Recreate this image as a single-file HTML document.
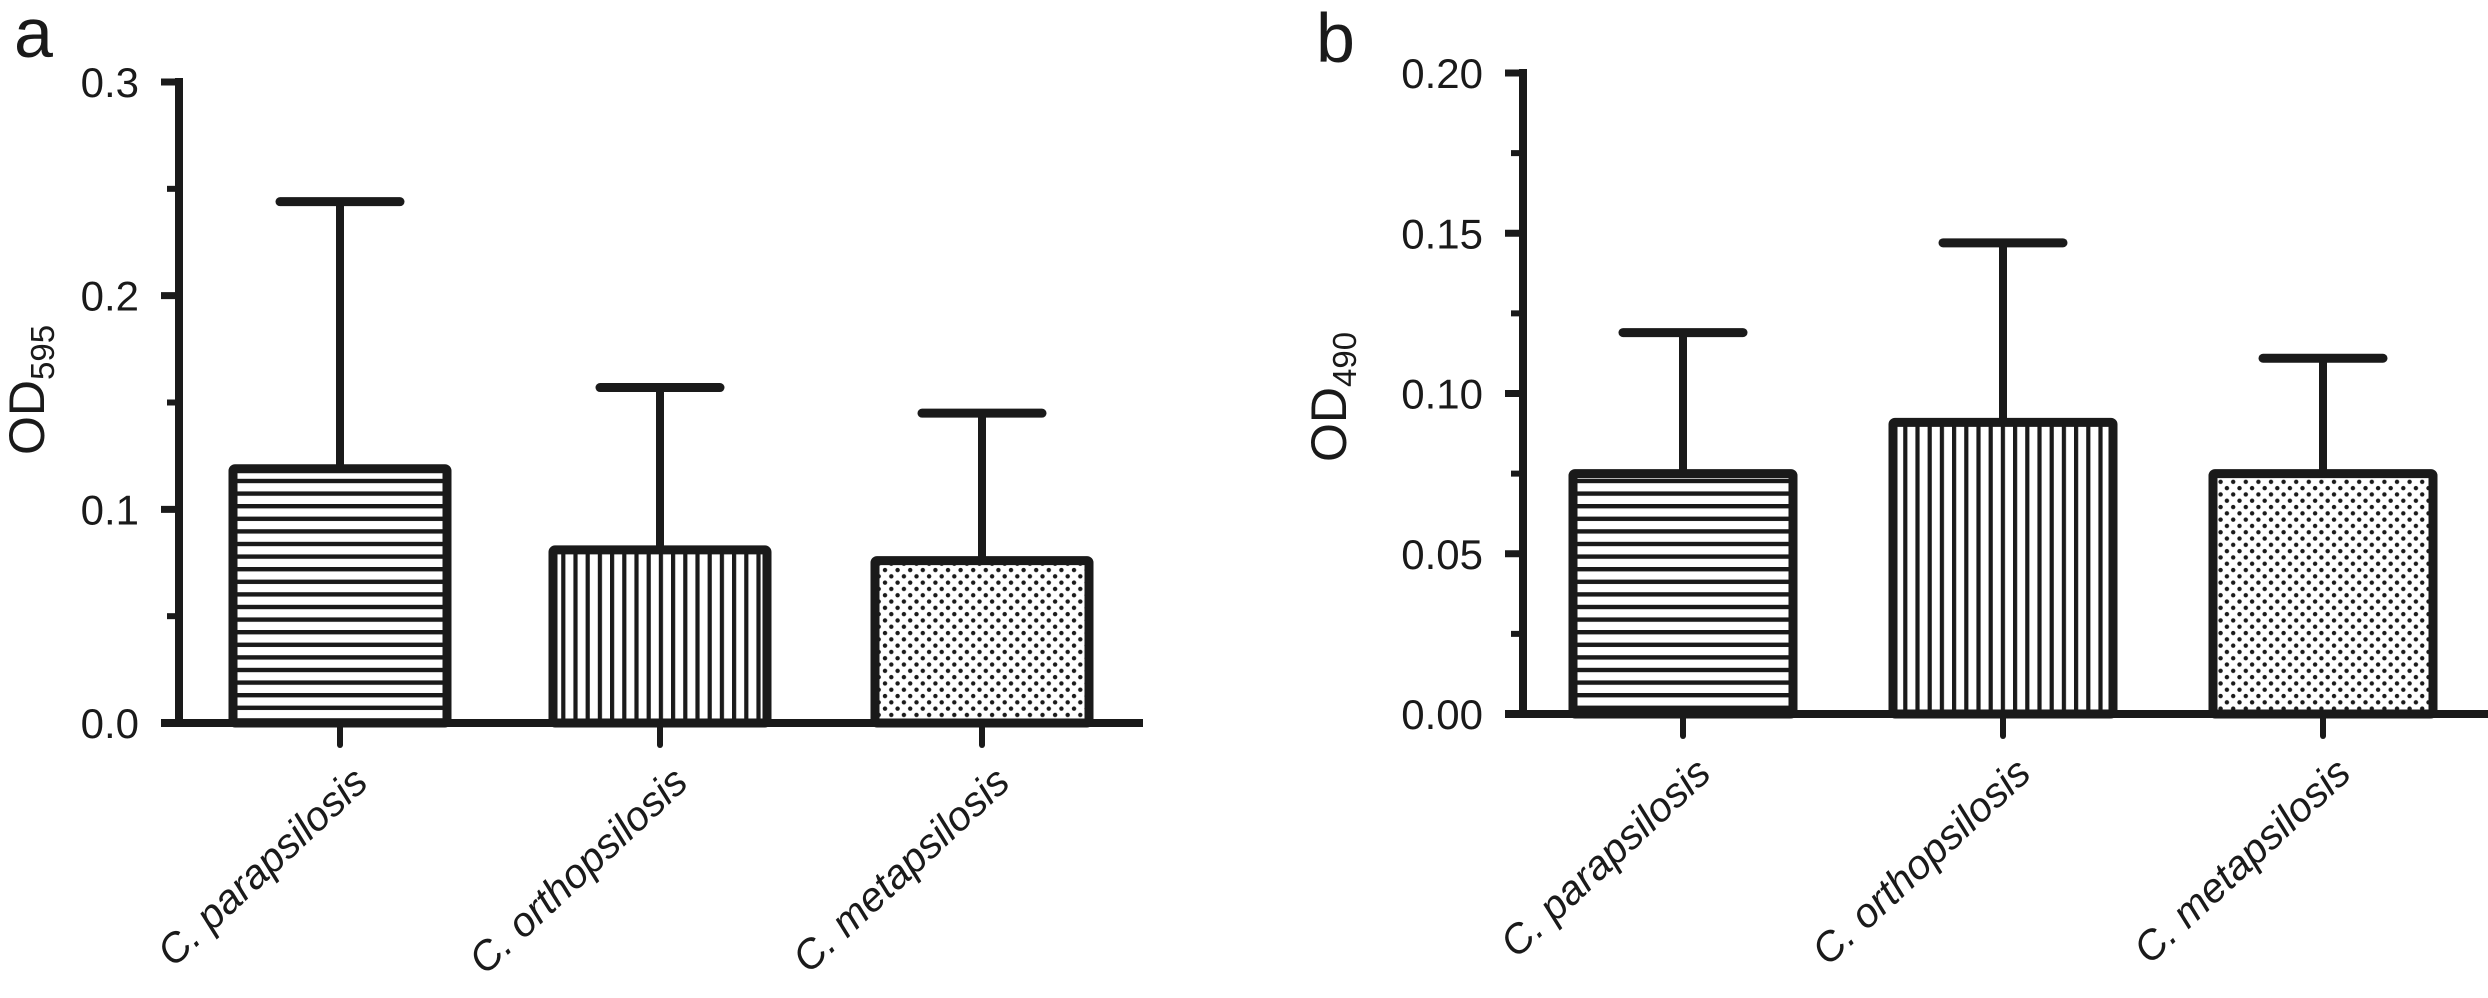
<!DOCTYPE html>
<html><head><meta charset="utf-8"><style>
html,body{margin:0;padding:0;background:#fff;}
svg{display:block;font-family:"Liberation Sans",sans-serif;}
</style></head><body>
<svg id="chart" width="2488" height="998" viewBox="0 0 2488 998" xmlns="http://www.w3.org/2000/svg">
<defs>
<pattern id="hstripe" patternUnits="userSpaceOnUse" width="12.6" height="12.6"><rect x="0" y="0" width="12.6" height="4.4" fill="#1a1a1a"/></pattern>
<pattern id="vstripe" patternUnits="userSpaceOnUse" width="12.2" height="12.2"><rect x="0" y="0" width="4.2" height="12.2" fill="#1a1a1a"/></pattern>
<pattern id="dots" patternUnits="userSpaceOnUse" width="12.6" height="12.6"><circle cx="3" cy="3" r="2.2" fill="#1a1a1a"/><circle cx="9.3" cy="9.3" r="2.2" fill="#1a1a1a"/></pattern>
</defs>
<text x="14" y="57" font-size="70" fill="#1a1a1a">a</text>
<text x="1316" y="62" font-size="70" fill="#1a1a1a">b</text>
<text transform="translate(44,455) rotate(-90)" font-size="50" fill="#1a1a1a">OD<tspan font-size="33" dy="10">595</tspan></text>
<text transform="translate(1346,462) rotate(-90)" font-size="50" fill="#1a1a1a">OD<tspan font-size="33" dy="10">490</tspan></text>
<g id="pa"></g>
<g id="pb"></g>
</svg>
<script>
const categories = ["C. parapsilosis", "C. orthopsilosis", "C. metapsilosis"];
const meansA = [0.119, 0.081, 0.076];
const errTopA = [0.244, 0.157, 0.145];
const ticksA = ["0.0", "0.1", "0.2", "0.3"];
const meansB = [0.075, 0.091, 0.075];
const errTopB = [0.119, 0.147, 0.111];
const ticksB = ["0.00", "0.05", "0.10", "0.15", "0.20"];

const NS = "http://www.w3.org/2000/svg";
const fills = ["url(#hstripe)", "url(#vstripe)", "url(#dots)"];
function mk(tag, attrs, parent) {
  const e = document.createElementNS(NS, tag);
  for (const k in attrs) e.setAttribute(k, attrs[k]);
  parent.appendChild(e);
  return e;
}
function drawPanel(g, cfg, means, errs, ticks, prefix) {
  const yScale = v => cfg.y0 - (v / cfg.max) * (cfg.y0 - cfg.yTop);
  const xScale = i => cfg.centers[i];
  const ax = mk("line", {x1: cfg.ax, y1: cfg.yTop - 4, x2: cfg.ax, y2: cfg.y0 + 4, stroke: "#1a1a1a", "stroke-width": 8}, g);
  
  
  const n = ticks.length - 1;
  for (let i = 0; i <= n; i++) {
    const v = cfg.max * i / n;
    const y = yScale(v);
    const t = mk("line", {x1: cfg.ax - 18, y1: y, x2: cfg.ax, y2: y, stroke: "#1a1a1a", "stroke-width": 7}, g);
    
    
    const lb = mk("text", {x: cfg.ax - 40, y: y + 15, "font-size": 42, "text-anchor": "end", fill: "#1a1a1a"}, g);
    lb.textContent = ticks[i];
    
    
    if (i < n) {
      const ym = yScale(v + cfg.max / n / 2);
      const m = mk("line", {x1: cfg.ax - 12, y1: ym, x2: cfg.ax, y2: ym, stroke: "#1a1a1a", "stroke-width": 6}, g);
      
      
    }
  }
  const xa = mk("line", {x1: cfg.ax - 18, y1: cfg.y0, x2: cfg.xEnd, y2: cfg.y0, stroke: "#1a1a1a", "stroke-width": 8}, g);
  
  
  categories.forEach((c, i) => {
    const cx = xScale(i);
    const w = cfg.barW;
    const yt = yScale(means[i]);
    const ye = yScale(errs[i]);
    const eb = mk("line", {x1: cx, y1: yt, x2: cx, y2: ye, stroke: "#1a1a1a", "stroke-width": 8}, g);
    
    
    const cap = mk("line", {x1: cx - 60, y1: ye, x2: cx + 60, y2: ye, stroke: "#1a1a1a", "stroke-width": 9, "stroke-linecap": "round"}, g);
    
    
    const bar = mk("rect", {x: cx - w / 2, y: yt, width: w, height: cfg.y0 - yt, fill: fills[i], stroke: "#1a1a1a", "stroke-width": 9, rx: 2}, g);
    
    
    const ct = mk("line", {x1: cx, y1: cfg.y0, x2: cx, y2: cfg.y0 + 22, stroke: "#1a1a1a", "stroke-width": 6, "stroke-linecap": "round"}, g);
    
    
    const lb = mk("text", {transform: "translate(" + (cx + 30) + "," + (cfg.y0 + 62) + ") rotate(-43)", "font-size": 41, "font-style": "italic", "text-anchor": "end", fill: "#1a1a1a"}, g);
    lb.textContent = c;
    
    
  });
}
drawPanel(document.getElementById("pa"), {ax: 179, y0: 723, yTop: 82, max: 0.3, xEnd: 1143, centers: [340, 660, 982], barW: 214}, meansA, errTopA, ticksA, "panel-a");
drawPanel(document.getElementById("pb"), {ax: 1523, y0: 714, yTop: 73, max: 0.2, xEnd: 2488, centers: [1683, 2003, 2323], barW: 220}, meansB, errTopB, ticksB, "panel-b");
</script>
</body></html>
